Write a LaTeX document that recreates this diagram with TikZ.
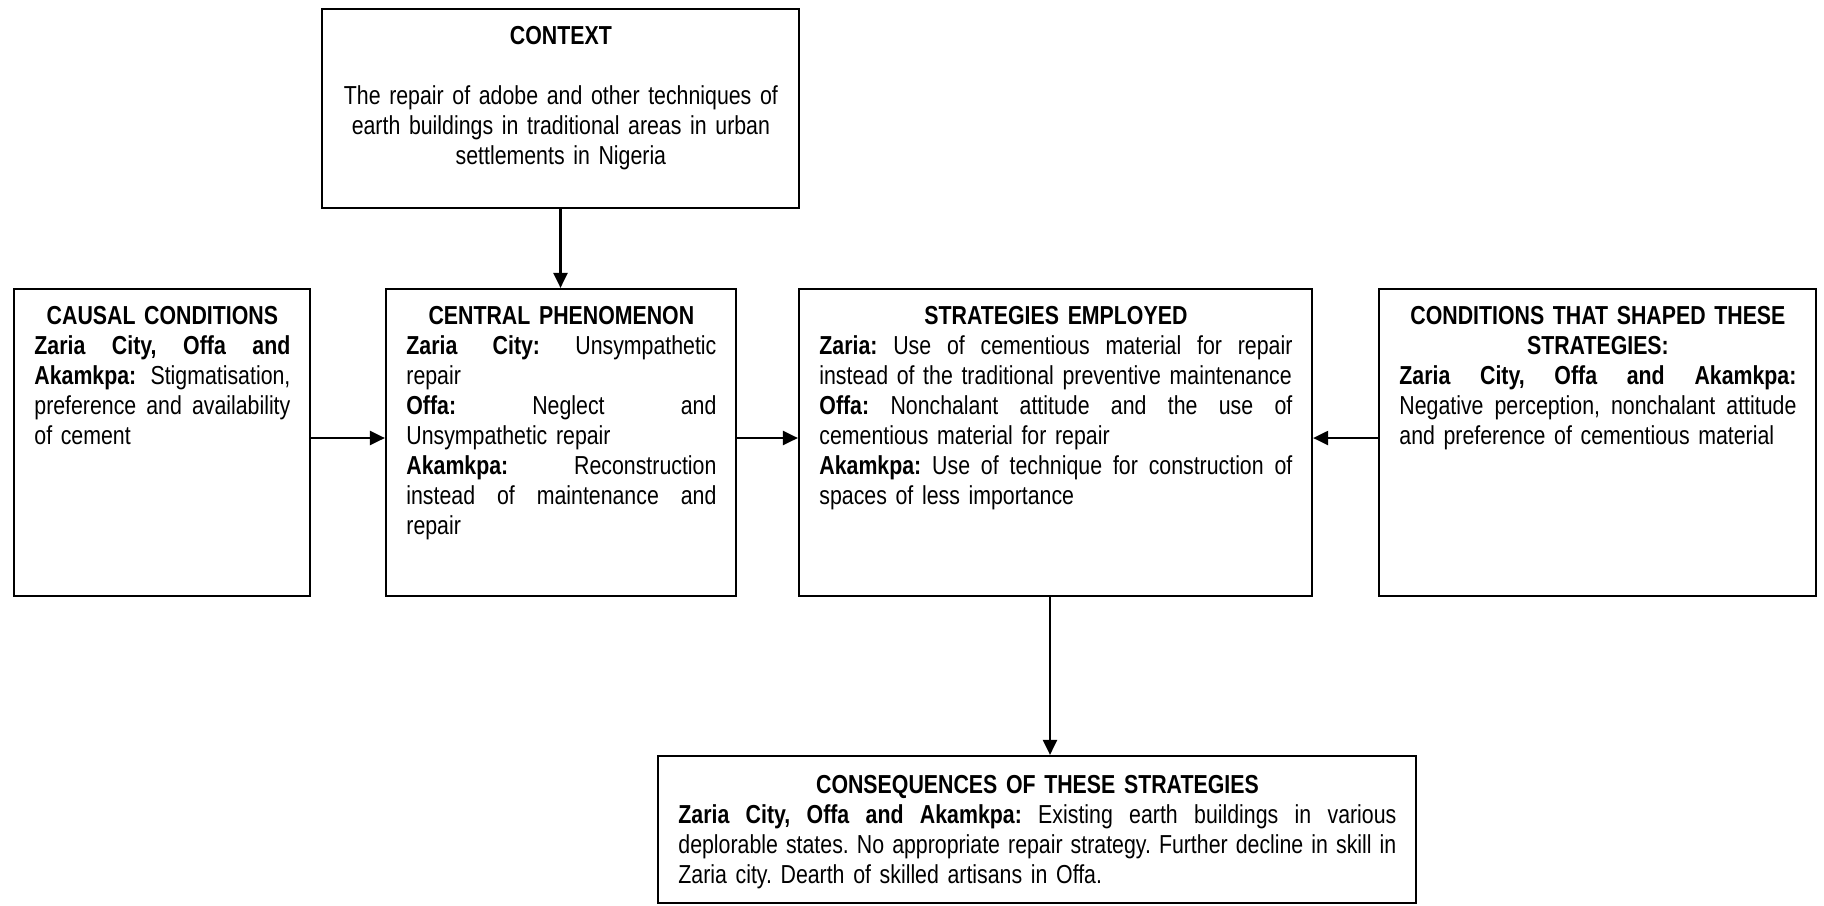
\documentclass[tikz,border=0pt]{standalone}
\usepackage{fontspec}
\setmainfont{Liberation Sans}[FakeStretch=0.82]
\usetikzlibrary{arrows.meta}
\setlength{\parindent}{0pt}
\frenchspacing
\newlength{\tw}
\newcommand\jl[1]{\noindent\hbox to\tw{\spaceskip=\fontdimen2\font plus 1fil minus .3\fontdimen2\font\relax #1}\par}
\newcommand\lft[1]{\noindent\hbox{#1}\par}
\newcommand\ttl[1]{\noindent\hbox to\tw{\hfil\bfseries #1\hfil}\par}
\newcommand\ctr[1]{\noindent\hbox to\tw{\hfil #1\hfil}\par}
\begin{document}
\begin{tikzpicture}[x=0.5pt,y=-0.5pt,
  box/.style={draw, line width=1.1pt, inner sep=0pt, rectangle, minimum height=153.5pt},
  txt/.style={anchor=north west, inner sep=0pt, align=left, font=\fontsize{13pt}{15pt}\selectfont},
  conn/.style={line width=1.1pt, -{Triangle[length=7.5pt,width=7pt]}}]
\useasboundingbox (0,0) rectangle (1824,905);

% boxes
\node[box, minimum width=238.5pt, minimum height=99.5pt] (context) at (560.5,108.5) {};
\node[box, minimum width=148pt] (causal) at (162,442.5) {};
\node[box, minimum width=175pt] (central) at (561,442.5) {};
\node[box, minimum width=256.5pt] (strat) at (1055.5,442.5) {};
\node[box, minimum width=218.5pt] (cond) at (1597.5,442.5) {};
\node[box, minimum width=379pt, minimum height=73.5pt] (conseq) at (1037,829.5) {};

% texts
\node[txt, text width=230pt] (contextT) at (342,26) {\setlength{\tw}{218.5pt}%
\ttl{CONTEXT}
\lft{}
\ctr{The repair of adobe and other techniques of}
\ctr{earth buildings in traditional areas in urban}
\ctr{settlements in Nigeria}};

\node[txt, text width=140pt] (causalT) at (34,306) {\setlength{\tw}{128pt}%
\ttl{CAUSAL CONDITIONS}
\jl{\textbf{Zaria City, Offa and}}
\jl{\textbf{Akamkpa:} Stigmatisation,}
\jl{preference and availability}
\lft{of cement}};

\node[txt, text width=165pt] (centralT) at (406,306) {\setlength{\tw}{155pt}%
\ttl{CENTRAL PHENOMENON}
\jl{\textbf{Zaria City:} Unsympathetic}
\lft{repair}
\jl{\textbf{Offa:} Neglect and}
\lft{Unsympathetic repair}
\jl{\textbf{Akamkpa:} Reconstruction}
\jl{instead of maintenance and}
\lft{repair}};

\node[txt, text width=250pt] (stratT) at (819,306) {\setlength{\tw}{236.5pt}%
\ttl{STRATEGIES EMPLOYED}
\jl{\textbf{Zaria:} Use of cementious material for repair}
\lft{instead of the traditional preventive maintenance}
\jl{\textbf{Offa:} Nonchalant attitude and the use of}
\lft{cementious material for repair}
\jl{\textbf{Akamkpa:} Use of technique for construction of}
\lft{spaces of less importance}};

\node[txt, text width=210pt] (condT) at (1399,306) {\setlength{\tw}{198.5pt}%
\ttl{CONDITIONS THAT SHAPED THESE}
\ttl{STRATEGIES:}
\jl{\textbf{Zaria City, Offa and Akamkpa:}}
\jl{Negative perception, nonchalant attitude}
\lft{and preference of cementious material}};

\node[txt, text width=370pt] (conseqT) at (678,775) {\setlength{\tw}{359pt}%
\ttl{CONSEQUENCES OF THESE STRATEGIES}
\jl{\textbf{Zaria City, Offa and Akamkpa:} Existing earth buildings in various}
\jl{deplorable states. No appropriate repair strategy. Further decline in skill in}
\lft{Zaria city. Dearth of skilled artisans in Offa.}};

% connectors
\draw[conn] (context.south) -- (context.south |- central.north);
\draw[conn] (causal.east |- 0,438) -- (central.west |- 0,438);
\draw[conn] (central.east |- 0,438) -- (strat.west |- 0,438);
\draw[conn] (cond.west |- 0,438) -- (strat.east |- 0,438);
\draw[conn] (strat.south -| 1050,0) -- (conseq.north -| 1050,0);
\end{tikzpicture}
\end{document}
